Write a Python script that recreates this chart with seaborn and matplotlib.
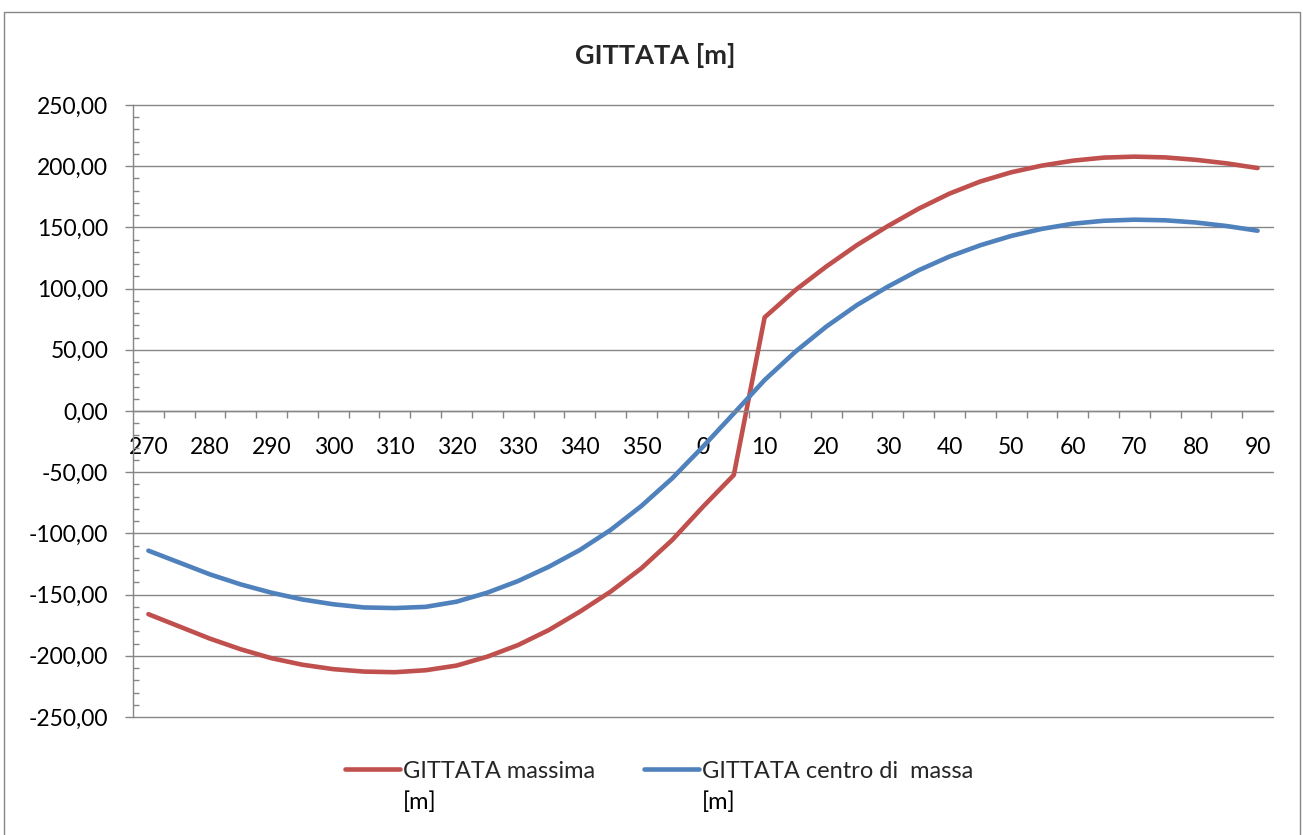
import matplotlib
matplotlib.use("Agg")
import matplotlib.pyplot as plt
from matplotlib.ticker import FixedLocator, FuncFormatter, MultipleLocator
from matplotlib.lines import Line2D
from matplotlib.patches import Rectangle
import seaborn as sns
import pandas as pd

# Wind direction (degrees), one category every 5 degrees
angles = [270, 275, 280, 285, 290, 295, 300, 305, 310, 315, 320, 325, 330, 335,
          340, 345, 350, 355, 0, 5, 10, 15, 20, 25, 30, 35, 40, 45, 50, 55,
          60, 65, 70, 75, 80, 85, 90]

# Maximum range [m]
gittata_massima = [-166.0, -176.0, -186.0, -194.7, -202.0, -207.3, -210.9, -212.9,
                   -213.4, -211.8, -208.0, -200.7, -191.2, -178.9, -164.0, -147.6,
                   -128.5, -105.4, -78.2, -52.3, 76.5, 98.8, 118.0, 135.6, 151.1,
                   165.3, 177.6, 187.5, 195.0, 200.5, 204.5, 207.0, 207.8, 207.2,
                   205.2, 202.3, 198.5]

# Range of the centre of mass [m]
gittata_centro_massa = [-114.1, -123.8, -133.5, -141.7, -148.5, -154.0, -157.9, -160.5,
                        -161.0, -160.0, -155.8, -148.4, -138.9, -127.2, -113.6, -97.2,
                        -77.6, -55.0, -29.1, -2.0, 25.3, 48.5, 68.9, 86.6, 101.6,
                        115.0, 126.2, 135.4, 143.0, 148.8, 153.0, 155.4, 156.3, 155.8,
                        154.0, 151.1, 147.3]

series_names = ["GITTATA massima", "GITTATA centro di  massa"]
series_colors = ["#C0504D", "#4F81BD"]
title = "GITTATA [m]"
unit_line = "[m]"

sns.set_theme(style="white")
plt.rcParams["font.family"] = ["Lato", "DejaVu Sans"]

GRAY = "#868686"
W, H = 1303, 835
fig = plt.figure(figsize=(W / 100, H / 100), dpi=100)
fig.patch.set_facecolor("white")
ax = fig.add_axes([133 / W, 1 - 717 / H, (1273 - 133) / W, (717 - 105) / H])

pos = list(range(len(angles)))
df = pd.concat([
    pd.DataFrame({"pos": pos, "value": gittata_massima, "serie": series_names[0]}),
    pd.DataFrame({"pos": pos, "value": gittata_centro_massa, "serie": series_names[1]}),
])
sns.lineplot(data=df, x="pos", y="value", hue="serie", palette=series_colors,
             linewidth=3.3, estimator=None, sort=True, legend=False, ax=ax)
for ln in ax.get_lines():
    ln.set_solid_capstyle("round")
    ln.set_solid_joinstyle("round")

ax.set_xlim(-0.5, len(angles) - 0.5)
ax.set_ylim(-250, 250)
ax.set_xlabel("")
ax.set_ylabel("")

# y axis: major every 50 (outside), minor every 10 (inside)
ax.yaxis.set_major_locator(MultipleLocator(50))
ax.yaxis.set_minor_locator(MultipleLocator(10))
ax.yaxis.set_major_formatter(FuncFormatter(lambda v, p: f"{v:.2f}".replace(".", ",")))
ax.tick_params(axis="y", which="major", direction="out", length=5.8, width=1,
               color=GRAY, labelsize=16.5, labelcolor="black", pad=12, left=True)
ax.tick_params(axis="y", which="minor", direction="in", length=4.3, width=1,
               color=GRAY, left=True)

# x axis crossing at zero: labels every 10 degrees, ticks between categories
ax.spines["bottom"].set_position(("data", 0))
ax.xaxis.set_major_locator(FixedLocator(pos[::2]))
ax.xaxis.set_major_formatter(FuncFormatter(lambda v, p: str(angles[int(round(v))])))
ax.xaxis.set_minor_locator(FixedLocator([p + 0.5 for p in pos[:-1]]))
ax.tick_params(axis="x", which="major", length=0, labelsize=16.5, labelcolor="black",
               pad=19, bottom=True)
ax.tick_params(axis="x", which="minor", direction="out", length=5, width=1,
               color=GRAY, bottom=True)

for side in ["top", "right"]:
    ax.spines[side].set_visible(False)
for side in ["left", "bottom"]:
    ax.spines[side].set_color(GRAY)
    ax.spines[side].set_linewidth(1.0)

ax.grid(True, axis="y", which="major", color=GRAY, linewidth=1.0)
ax.grid(False, axis="x")
for gl in ax.get_ygridlines():
    gl.set_clip_on(False)
ax.set_axisbelow(True)

fig.suptitle(title, x=655 / W, y=1 - 55 / H, va="center", ha="center",
             fontsize=19.5, fontweight="bold")

# Legend below the plot, labels wrapped on two lines
handles = [Line2D([0], [0], color=c, linewidth=3.3, solid_capstyle="round")
           for c in series_colors]
leg = fig.legend(handles, series_names, loc="center left",
                 bbox_to_anchor=(345 / W, 1 - 771 / H), ncol=2, frameon=False,
                 fontsize=17, handlelength=2.35, handletextpad=0.12,
                 columnspacing=2.05, borderpad=0, borderaxespad=0)

fig.canvas.draw()
renderer = fig.canvas.get_renderer()
inv = fig.transFigure.inverted()
for t in leg.get_texts():
    bb = t.get_window_extent(renderer)
    x0, y0 = inv.transform((bb.x0, bb.y0 - 31))
    fig.text(x0, y0, unit_line, ha="left", va="bottom", fontsize=17, color="black")

# Chart frame
fig.add_artist(Rectangle((4 / W, -0.01), (1300 - 4) / W, (1 - 12 / H) + 0.01,
                         transform=fig.transFigure, fill=False,
                         edgecolor=GRAY, linewidth=1.0))

fig.savefig("out.png", dpi=100, facecolor="white")
